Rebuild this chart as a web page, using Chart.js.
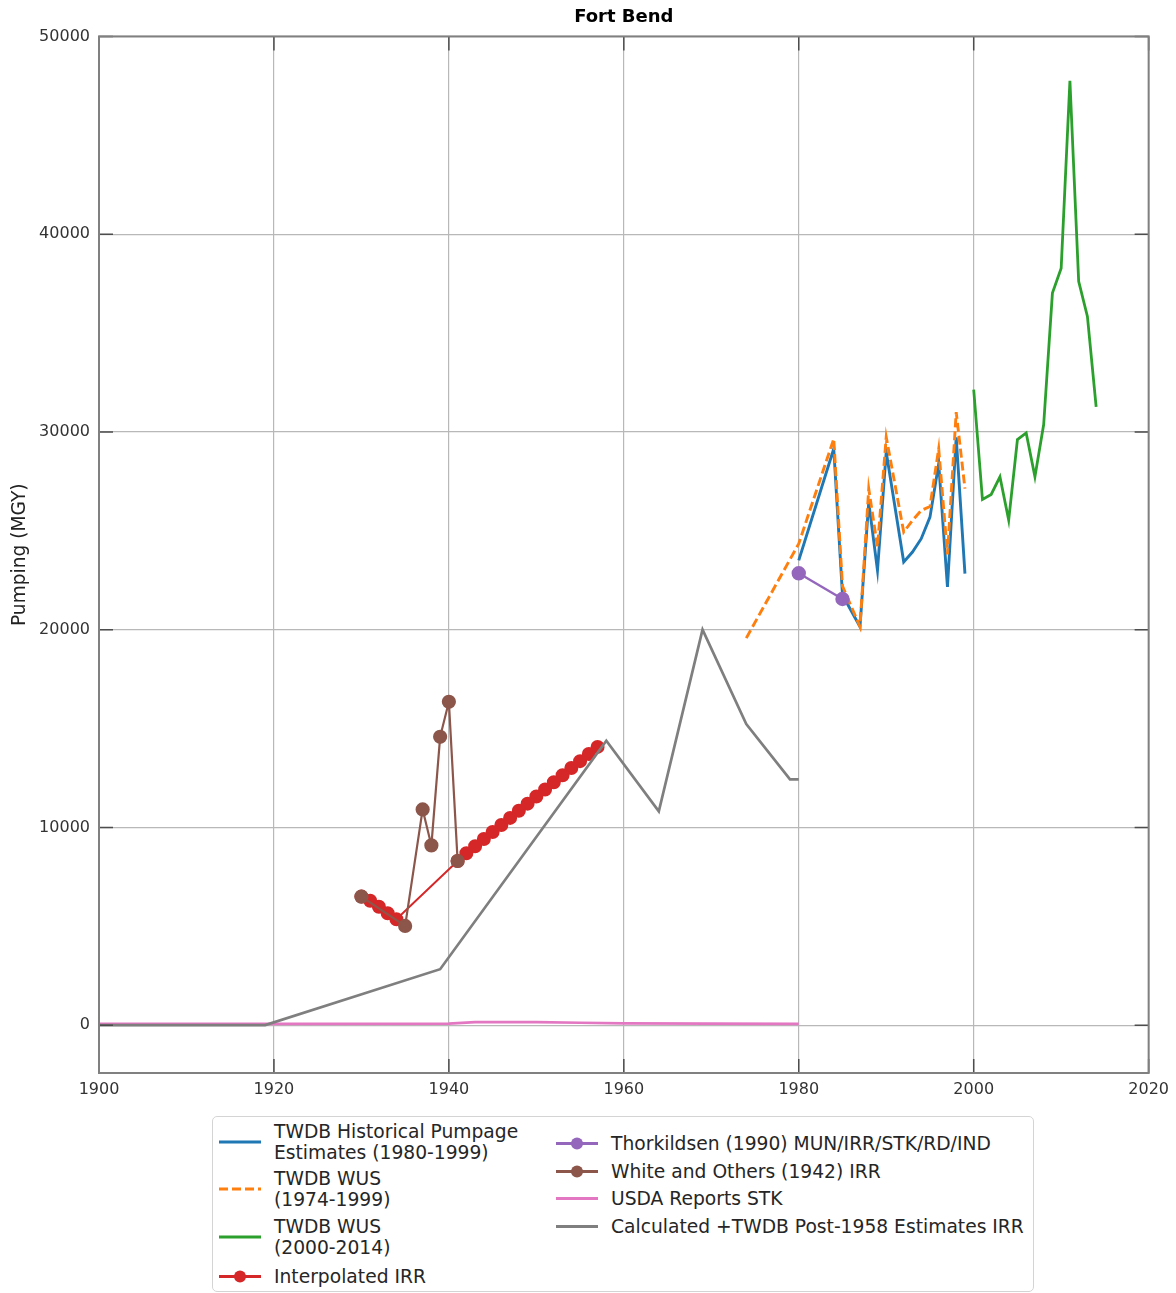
<!DOCTYPE html>
<html>
<head>
<meta charset="utf-8">
<title>Fort Bend</title>
<script src="https://cdn.jsdelivr.net/npm/chart.js@4.4.1/dist/chart.umd.min.js"></script>
<style>
  html, body { margin: 0; padding: 0; background: #fff; }
  #wrap { position: relative; width: 1176px; height: 1293px; overflow: hidden; }
  #chart { position: absolute; left: 0; top: 0; }
  #legend {
    position: absolute; left: 212px; top: 1116px; width: 820px; height: 174px;
    border: 1.5px solid #d4d4d4; border-radius: 5px; background: #fff;
    font-family: 'DejaVu Sans', sans-serif; font-size: 18.7px; color: #262626;
  }
  .item { position: absolute; display: flex; align-items: center; transform: translateY(-50%); }
  .item svg { flex: none; }
  .item .txt { margin-left: 13px; line-height: 21px; white-space: nowrap; }
</style>
</head>
<body>
<div id="wrap">
  <canvas id="chart" width="1176" height="1293"></canvas>
  <div id="legend"></div>
</div>
<script>
// ---- Data (pumping, MGY) ----
const histYears   = [1980, 1984, 1985, 1987, 1988, 1989, 1990, 1992, 1993, 1994, 1995, 1996, 1997, 1998, 1999];
const histValues  = [23500, 29150, 21750, 20150, 26450, 23000, 28980, 23420, 23925, 24600, 25690, 28390, 22160, 29730, 22830];

const wus74Years  = [1974, 1980, 1984, 1985, 1987, 1988, 1989, 1990, 1992, 1993, 1994, 1995, 1996, 1997, 1998, 1999];
const wus74Values = [19570, 24350, 29650, 22200, 20150, 27130, 24180, 29740, 24935, 25525, 26030, 26230, 29150, 23800, 31000, 27130];

const wus00Years  = [2000, 2001, 2002, 2003, 2004, 2005, 2006, 2007, 2008, 2009, 2010, 2011, 2012, 2013, 2014];
const wus00Values = [32140, 26580, 26840, 27730, 25540, 29610, 29950, 27730, 30370, 37020, 38280, 47760, 37610, 35840, 31260];

const irrYears    = [1930, 1931, 1932, 1933, 1934, 1941, 1942, 1943, 1944, 1945, 1946, 1947, 1948, 1949, 1950, 1951, 1952, 1953, 1954, 1955, 1956, 1957];
const irrValues   = [6500, 6290, 5990, 5660, 5355, 8300, 8690, 9050, 9410, 9770, 10120, 10480, 10840, 11200, 11560, 11920, 12280, 12640, 13000, 13350, 13710, 14070];

const thorkYears  = [1980, 1985];
const thorkValues = [22850, 21550];

const whiteYears  = [1930, 1935, 1937, 1938, 1939, 1940, 1941];
const whiteValues = [6500, 5015, 10910, 9090, 14580, 16350, 8300];

const usdaYears   = [1900, 1920, 1940, 1943, 1950, 1955, 1960, 1980];
const usdaValues  = [60, 60, 80, 150, 150, 120, 90, 60];

const calcYears   = [1900, 1919, 1939, 1958, 1964, 1969, 1974, 1979, 1980];
const calcValues  = [0, 0, 2830, 14380, 10810, 20000, 15230, 12430, 12430];

const yTickValues = [0, 10000, 20000, 30000, 40000, 50000];

const seriesLabels = [
  'TWDB Historical Pumpage\nEstimates (1980-1999)',
  'TWDB WUS\n(1974-1999)',
  'TWDB WUS\n(2000-2014)',
  'Interpolated IRR',
  'Thorkildsen (1990) MUN/IRR/STK/RD/IND',
  'White and Others (1942) IRR',
  'USDA Reports STK',
  'Calculated +TWDB Post-1958 Estimates IRR'
];

const toPoints = (xs, ys) => xs.map((x, i) => ({ x: x, y: ys[i] }));

function series(idx, xs, ys, color, extra) {
  return Object.assign({
    label: seriesLabels[idx],
    data: toPoints(xs, ys),
    borderColor: color,
    backgroundColor: color,
    borderWidth: 2.7,
    pointRadius: 0,
    pointHoverRadius: 0,
    fill: false,
    tension: 0,
    order: 8 - idx
  }, extra || {});
}

const datasets = [
  series(0, histYears, histValues, '#1f77b4', { borderWidth: 2.9 }),
  series(1, wus74Years, wus74Values, '#ff7f0e', { borderDash: [9, 4], borderWidth: 2.9 }),
  series(2, wus00Years, wus00Values, '#2ca02c', { borderWidth: 2.8 }),
  series(3, irrYears, irrValues, '#d62728', { pointRadius: 6, borderWidth: 2 }),
  series(4, thorkYears, thorkValues, '#9467bd', { pointRadius: 6, borderWidth: 2.4 }),
  series(5, whiteYears, whiteValues, '#8c564b', { pointRadius: 6, borderWidth: 2.2 }),
  series(6, usdaYears, usdaValues, '#e377c2'),
  series(7, calcYears, calcValues, '#7f7f7f')
];

// Inward tick marks on all four sides plus the axes frame
const frameTicks = {
  id: 'frameTicks',
  afterDraw(chart) {
    const { ctx, chartArea: a, scales: { x, y } } = chart;
    const len = 14;
    ctx.save();
    ctx.strokeStyle = '#4d4d4d';
    ctx.lineWidth = 1.5;
    ctx.beginPath();
    x.ticks.forEach(t => {
      const px = x.getPixelForValue(t.value);
      ctx.moveTo(px, a.bottom); ctx.lineTo(px, a.bottom - len);
      ctx.moveTo(px, a.top); ctx.lineTo(px, a.top + len);
    });
    y.ticks.forEach(t => {
      const py = y.getPixelForValue(t.value);
      ctx.moveTo(a.left, py); ctx.lineTo(a.left + len, py);
      ctx.moveTo(a.right, py); ctx.lineTo(a.right - len, py);
    });
    ctx.stroke();
    ctx.strokeStyle = '#808080';
    ctx.lineWidth = 2;
    ctx.strokeRect(a.left, a.top, a.right - a.left, a.bottom - a.top);
    ctx.restore();
  }
};

Chart.defaults.font.family = "'DejaVu Sans', sans-serif";

const chart = new Chart(document.getElementById('chart'), {
  type: 'line',
  data: { datasets: datasets },
  options: {
    responsive: false,
    animation: false,
    devicePixelRatio: 1,
    layout: { padding: { left: 0, right: 27, top: 0, bottom: 180 } },
    plugins: {
      legend: { display: false },
      tooltip: { enabled: false },
      title: {
        display: true,
        text: 'Fort Bend',
        fullSize: false,
        color: '#000',
        font: { size: 18, weight: 'bold' },
        padding: { top: 7, bottom: 7.8 }
      }
    },
    scales: {
      x: {
        type: 'linear',
        min: 1900,
        max: 2020,
        border: { display: false },
        grid: { color: '#b8b8b8', lineWidth: 1.2, drawTicks: false },
        ticks: {
          stepSize: 20,
          padding: 7,
          color: '#333',
          font: { size: 16 },
          maxRotation: 0,
          callback: v => String(v)
        },
        afterFit: s => { s.height = 40; }
      },
      y: {
        type: 'linear',
        min: -2420,
        max: 50000,
        border: { display: false },
        grid: { color: '#b8b8b8', lineWidth: 1.2, drawTicks: false },
        afterBuildTicks: s => { s.ticks = yTickValues.map(v => ({ value: v })); },
        ticks: {
          padding: 9,
          color: '#333',
          font: { size: 16 },
          callback: v => String(v)
        },
        title: {
          display: true,
          text: 'Pumping (MGY)',
          color: '#222',
          font: { size: 18.6 },
          padding: { top: 9, bottom: 0 }
        },
        afterFit: s => { s.width = 99; }
      }
    }
  },
  plugins: [frameTicks]
});

// HTML legend built from the chart's datasets
const legendPos = [
  { x: 6,   y: 25 }, { x: 6,   y: 72 }, { x: 6,   y: 120 }, { x: 6,   y: 159 },
  { x: 343, y: 26 }, { x: 343, y: 54 }, { x: 343, y: 81 },  { x: 343, y: 109 }
];
const legendEl = document.getElementById('legend');
chart.data.datasets.forEach((ds, i) => {
  const item = document.createElement('div');
  item.className = 'item';
  item.style.left = legendPos[i].x + 'px';
  item.style.top = legendPos[i].y + 'px';
  const dash = ds.borderDash ? ' stroke-dasharray="' + ds.borderDash.join(' ') + '"' : '';
  const dot = ds.pointRadius ? '<circle cx="21" cy="8" r="6" fill="' + ds.borderColor + '"/>' : '';
  item.innerHTML =
    '<svg width="42" height="16" viewBox="0 0 42 16"><line x1="0" y1="8" x2="42" y2="8" stroke="' +
    ds.borderColor + '" stroke-width="3"' + dash + '/>' + dot + '</svg>' +
    '<div class="txt">' + ds.label.split('\n').join('<br>') + '</div>';
  legendEl.appendChild(item);
});
</script>
</body>
</html>
